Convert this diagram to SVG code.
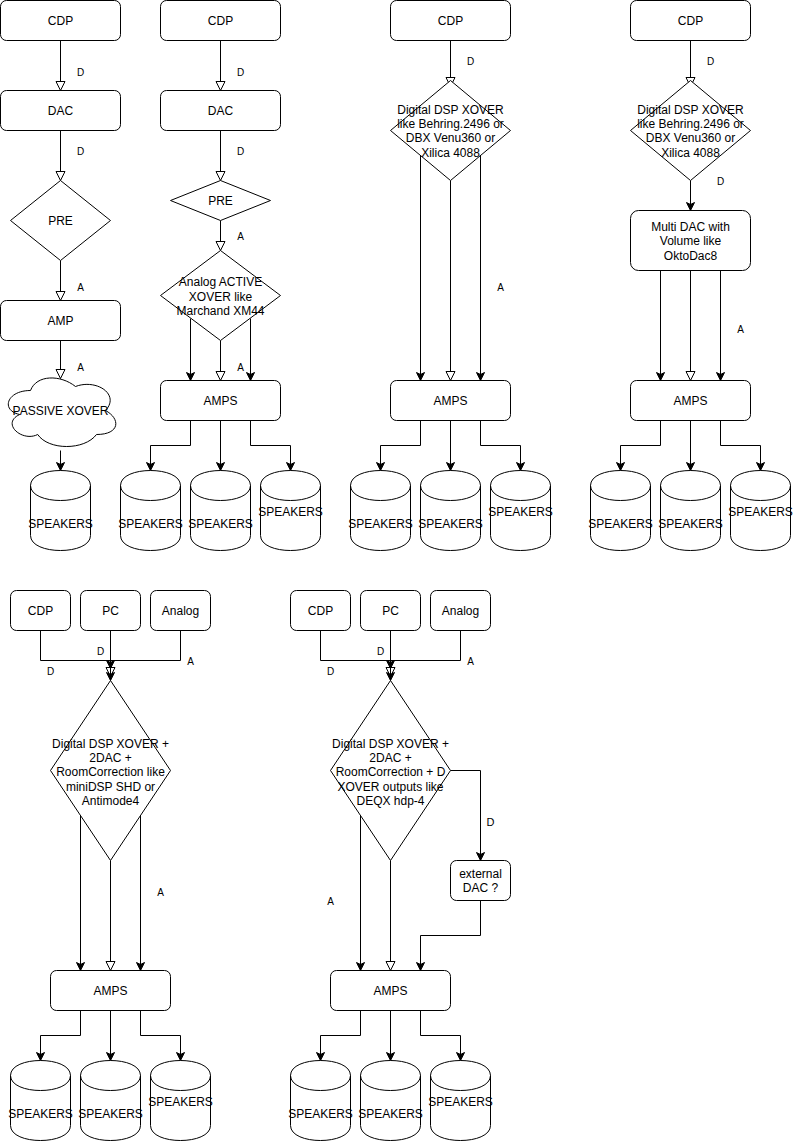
<svg xmlns="http://www.w3.org/2000/svg" xmlns:xlink="http://www.w3.org/1999/xlink" width="793" height="1141" viewBox="0 0 793 1141">
<style>
.n{fill:#fff;stroke:#000;stroke-width:1}
.e{fill:none;stroke:#000;stroke-width:1}
.ea{marker-end:url(#fa)}
.eo{marker-end:url(#oa)}
text{font-family:"Liberation Sans",Arial,Helvetica,sans-serif;font-size:12px;fill:#000;text-anchor:middle}
.l{font-size:10px}
</style>
<defs>
<marker id="fa" markerUnits="userSpaceOnUse" markerWidth="10" markerHeight="10" refX="8" refY="4" orient="auto" overflow="visible"><path d="M0,0 L8,4 L0,8 L2,4 Z" fill="#000" stroke="#000" stroke-width="1"/></marker>
<marker id="oa" markerUnits="userSpaceOnUse" markerWidth="12" markerHeight="12" refX="9" refY="4.5" orient="auto" overflow="visible"><path d="M0,0 L9,4.5 L0,9 Z" fill="#fff" stroke="#000" stroke-width="1"/></marker>
<path id="cyl" d="M0,15 C0,-5 60,-5 60,15 V65 C60,85 0,85 0,65 Z M0,15 C0,35 60,35 60,15" fill="#fff" stroke="#000"/>
</defs>
<rect width="793" height="1141" fill="#fff"/>
<g transform="translate(0.5,0.5)">
<g id="connectors">
<!-- column 1 -->
<path class="e eo" d="M60,40 V90"/>
<path class="e eo" d="M60,130 V180"/>
<path class="e eo" d="M60,260 V300"/>
<path class="e eo" d="M60,340 V378"/>
<path class="e ea" d="M60,450 V470"/>
<!-- column 2 -->
<path class="e eo" d="M220,40 V90"/>
<path class="e eo" d="M220,130 V180"/>
<path class="e eo" d="M220,220 V250"/>
<path class="e ea" d="M190,318 V380"/>
<path class="e eo" d="M220,340 V380"/>
<path class="e ea" d="M250,318 V380"/>
<path class="e ea" d="M190,420 V445 H150 V470"/>
<path class="e ea" d="M220,420 V470"/>
<path class="e ea" d="M250,420 V445 H290 V470"/>
<!-- column 3 -->
<path class="e eo" d="M450,40 V86"/>
<path class="e ea" d="M420,155 V380"/>
<path class="e eo" d="M450,180 V380"/>
<path class="e ea" d="M480,155 V380"/>
<path class="e ea" d="M420,420 V445 H380 V470"/>
<path class="e ea" d="M450,420 V470"/>
<path class="e ea" d="M480,420 V445 H520 V470"/>
<!-- column 4 -->
<path class="e eo" d="M690,40 V86"/>
<path class="e ea" d="M690,180 V210"/>
<path class="e ea" d="M660,270 V380"/>
<path class="e eo" d="M690,270 V380"/>
<path class="e ea" d="M720,270 V380"/>
<path class="e ea" d="M660,420 V445 H620 V470"/>
<path class="e ea" d="M690,420 V470"/>
<path class="e ea" d="M720,420 V445 H760 V470"/>
<!-- bottom left -->
<path class="e eo" d="M110,630 V676"/>
<path class="e ea" d="M40,630 V660 H110 V668"/>
<path class="e ea" d="M180,630 V660 H110 V680"/>
<path class="e ea" d="M80,815 V970"/>
<path class="e eo" d="M110,860 V970"/>
<path class="e ea" d="M140,815 V970"/>
<path class="e ea" d="M80,1010 V1035 H40 V1060"/>
<path class="e ea" d="M110,1010 V1060"/>
<path class="e ea" d="M140,1010 V1035 H180 V1060"/>
<!-- bottom right -->
<path class="e eo" d="M390,630 V676"/>
<path class="e ea" d="M320,630 V660 H390 V668"/>
<path class="e ea" d="M460,630 V660 H390 V680"/>
<path class="e ea" d="M450,770 H480 V860"/>
<path class="e ea" d="M480,900 V935 H420 V970"/>
<path class="e ea" d="M360,815 V970"/>
<path class="e eo" d="M390,860 V970"/>
<path class="e ea" d="M360,1010 V1035 H320 V1060"/>
<path class="e ea" d="M390,1010 V1060"/>
<path class="e ea" d="M420,1010 V1035 H460 V1060"/>
<!-- edge labels -->
<text class="l" x="80" y="75">D</text>
<text class="l" x="80" y="154">D</text>
<text class="l" x="80" y="290">A</text>
<text class="l" x="80" y="370">A</text>
<text class="l" x="240" y="75">D</text>
<text class="l" x="240" y="154">D</text>
<text class="l" x="240" y="239">A</text>
<text class="l" x="240" y="370">A</text>
<text class="l" x="470" y="64">D</text>
<text class="l" x="500" y="290">A</text>
<text class="l" x="710" y="64">D</text>
<text class="l" x="720" y="184">D</text>
<text class="l" x="740" y="332">A</text>
<text class="l" x="100" y="654">D</text>
<text class="l" x="50" y="674">D</text>
<text class="l" x="190" y="664">A</text>
<text class="l" x="160" y="895">A</text>
<text class="l" x="380" y="654">D</text>
<text class="l" x="330" y="674">D</text>
<text class="l" x="470" y="664">A</text>
<text x="490" y="825" style="font-size:11px">D</text>
<text class="l" x="330" y="904">A</text>
</g>
<!-- column 1 nodes -->
<g id="c1-cdp"><rect class="n" x="0" y="0" width="120" height="40" rx="6"/><text x="60" y="24">CDP</text></g>
<g id="c1-dac"><rect class="n" x="0" y="90" width="120" height="40" rx="6"/><text x="60" y="114">DAC</text></g>
<g id="c1-pre"><path class="n" d="M60,180 L110,220 L60,260 L10,220 Z"/><text x="60" y="224">PRE</text></g>
<g id="c1-amp"><rect class="n" x="0" y="300" width="120" height="40" rx="6"/><text x="60" y="324">AMP</text></g>
<g id="c1-xover"><path class="n" d="M30,390 C6,390 0,410 19.2,414 C0,422.8 21.6,442 37.2,434 C48,450 84,450 96,434 C120,434 120,418 105,410 C120,394 96,378 75,386 C60,374 36,374 30,390 Z"/><text x="60" y="414">PASSIVE XOVER</text></g>
<g id="c1-spk"><use xlink:href="#cyl" x="30" y="470"/><text x="60" y="527">SPEAKERS</text></g>
<!-- column 2 nodes -->
<g id="c2-cdp"><rect class="n" x="160" y="0" width="120" height="40" rx="6"/><text x="220" y="24">CDP</text></g>
<g id="c2-dac"><rect class="n" x="160" y="90" width="120" height="40" rx="6"/><text x="220" y="114">DAC</text></g>
<g id="c2-pre"><path class="n" d="M220,180 L270,200 L220,220 L170,200 Z"/><text x="220" y="204">PRE</text></g>
<g id="c2-xover"><path class="n" d="M220,250 L280,295 L220,340 L160,295 Z"/><text x="220" y="285">Analog ACTIVE</text><text x="220" y="300">XOVER like</text><text x="220" y="314">Marchand XM44</text></g>
<g id="c2-amps"><rect class="n" x="160" y="380" width="120" height="40" rx="6"/><text x="220" y="404">AMPS</text></g>
<g id="c2-spk1"><use xlink:href="#cyl" x="120" y="470"/><text x="150" y="527">SPEAKERS</text></g>
<g id="c2-spk2"><use xlink:href="#cyl" x="190" y="470"/><text x="220" y="527">SPEAKERS</text></g>
<g id="c2-spk3"><use xlink:href="#cyl" x="260" y="470"/><text x="290" y="515">SPEAKERS</text></g>
<!-- column 3 nodes -->
<g id="c3-cdp"><rect class="n" x="390" y="0" width="120" height="40" rx="6"/><text x="450" y="24">CDP</text></g>
<g id="c3-dsp"><path class="n" d="M450,80 L510,130 L450,180 L390,130 Z"/><text x="450" y="113">Digital DSP XOVER</text><text x="450" y="127">like Behring.2496 or</text><text x="450" y="141">DBX Venu360 or</text><text x="450" y="156">Xilica 4088</text></g>
<g id="c3-amps"><rect class="n" x="390" y="380" width="120" height="40" rx="6"/><text x="450" y="404">AMPS</text></g>
<g id="c3-spk1"><use xlink:href="#cyl" x="350" y="470"/><text x="380" y="527">SPEAKERS</text></g>
<g id="c3-spk2"><use xlink:href="#cyl" x="420" y="470"/><text x="450" y="527">SPEAKERS</text></g>
<g id="c3-spk3"><use xlink:href="#cyl" x="490" y="470"/><text x="520" y="515">SPEAKERS</text></g>
<!-- column 4 nodes -->
<g id="c4-cdp"><rect class="n" x="630" y="0" width="120" height="40" rx="6"/><text x="690" y="24">CDP</text></g>
<g id="c4-dsp"><path class="n" d="M690,80 L750,130 L690,180 L630,130 Z"/><text x="690" y="113">Digital DSP XOVER</text><text x="690" y="127">like Behring.2496 or</text><text x="690" y="141">DBX Venu360 or</text><text x="690" y="156">Xilica 4088</text></g>
<g id="c4-dac"><rect class="n" x="630" y="210" width="120" height="60" rx="8"/><text x="690" y="230">Multi DAC with</text><text x="690" y="244">Volume like</text><text x="690" y="259">OktoDac8</text></g>
<g id="c4-amps"><rect class="n" x="630" y="380" width="120" height="40" rx="6"/><text x="690" y="404">AMPS</text></g>
<g id="c4-spk1"><use xlink:href="#cyl" x="590" y="470"/><text x="620" y="527">SPEAKERS</text></g>
<g id="c4-spk2"><use xlink:href="#cyl" x="660" y="470"/><text x="690" y="527">SPEAKERS</text></g>
<g id="c4-spk3"><use xlink:href="#cyl" x="730" y="470"/><text x="760" y="515">SPEAKERS</text></g>
<!-- bottom left nodes -->
<g id="bl-cdp"><rect class="n" x="10" y="590" width="60" height="40" rx="6"/><text x="40" y="614">CDP</text></g>
<g id="bl-pc"><rect class="n" x="80" y="590" width="60" height="40" rx="6"/><text x="110" y="614">PC</text></g>
<g id="bl-analog"><rect class="n" x="150" y="590" width="60" height="40" rx="6"/><text x="180" y="614">Analog</text></g>
<g id="bl-dsp"><path class="n" d="M110,680 L170,770 L110,860 L50,770 Z"/><text x="110" y="747">Digital DSP XOVER +</text><text x="110" y="761">2DAC +</text><text x="110" y="775">RoomCorrection like</text><text x="110" y="790">miniDSP SHD or</text><text x="110" y="804">Antimode4</text></g>
<g id="bl-amps"><rect class="n" x="50" y="970" width="120" height="40" rx="6"/><text x="110" y="994">AMPS</text></g>
<g id="bl-spk1"><use xlink:href="#cyl" x="10" y="1060"/><text x="40" y="1117">SPEAKERS</text></g>
<g id="bl-spk2"><use xlink:href="#cyl" x="80" y="1060"/><text x="110" y="1117">SPEAKERS</text></g>
<g id="bl-spk3"><use xlink:href="#cyl" x="150" y="1060"/><text x="180" y="1105">SPEAKERS</text></g>
<!-- bottom right nodes -->
<g id="br-cdp"><rect class="n" x="290" y="590" width="60" height="40" rx="6"/><text x="320" y="614">CDP</text></g>
<g id="br-pc"><rect class="n" x="360" y="590" width="60" height="40" rx="6"/><text x="390" y="614">PC</text></g>
<g id="br-analog"><rect class="n" x="430" y="590" width="60" height="40" rx="6"/><text x="460" y="614">Analog</text></g>
<g id="br-dsp"><path class="n" d="M390,680 L450,770 L390,860 L330,770 Z"/><text x="390" y="747">Digital DSP XOVER +</text><text x="390" y="761">2DAC +</text><text x="390" y="775">RoomCorrection + D</text><text x="390" y="790">XOVER outputs like</text><text x="390" y="804">DEQX hdp-4</text></g>
<g id="br-extdac"><rect class="n" x="450" y="860" width="60" height="40" rx="6"/><text x="480" y="877">external</text><text x="480" y="891">DAC ?</text></g>
<g id="br-amps"><rect class="n" x="330" y="970" width="120" height="40" rx="6"/><text x="390" y="994">AMPS</text></g>
<g id="br-spk1"><use xlink:href="#cyl" x="290" y="1060"/><text x="320" y="1117">SPEAKERS</text></g>
<g id="br-spk2"><use xlink:href="#cyl" x="360" y="1060"/><text x="390" y="1117">SPEAKERS</text></g>
<g id="br-spk3"><use xlink:href="#cyl" x="430" y="1060"/><text x="460" y="1105">SPEAKERS</text></g>
</g>
</svg>
